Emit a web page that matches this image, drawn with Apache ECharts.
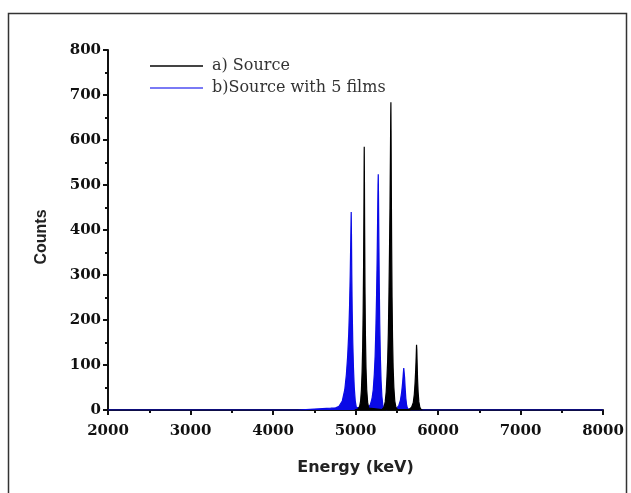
<!DOCTYPE html>
<html>
<head>
<meta charset="utf-8">
<script src="https://cdn.jsdelivr.net/npm/echarts@6/dist/echarts.min.js"></script>
<style>
  html, body { margin: 0; padding: 0; background: #fff; }
  #chart { width: 631px; height: 493px; }
</style>
</head>
<body>
<div id="chart"></div>
<script>
// Alpha spectrum of the bare source (black) and of the source behind 5 films (blue).
// Each series is a list of [energy keV, counts] points.
const seriesNames = ['a) Source', 'b)Source with 5 films'];

const sourceCounts = [
  [4990, 0], [5030, 2], [5050, 8], [5062, 20], [5072, 45], [5080, 85], [5087, 140],
  [5093, 220], [5098, 320], [5102, 440], [5105, 560], [5106, 585], [5108, 520],
  [5111, 400], [5115, 270], [5120, 170], [5127, 95], [5136, 45], [5148, 15],
  [5162, 4], [5180, 0],
  [5320, 1], [5345, 6], [5360, 18], [5372, 40], [5382, 75], [5390, 110], [5398, 170],
  [5405, 250], [5412, 350], [5418, 450], [5423, 560], [5427, 650], [5429, 684],
  [5431, 620], [5434, 500], [5438, 370], [5443, 250], [5449, 160], [5456, 95],
  [5465, 50], [5476, 20], [5490, 6], [5510, 1],
  [5650, 1], [5680, 6], [5700, 16], [5713, 35], [5722, 60], [5730, 90], [5736, 120],
  [5740, 145], [5741, 147], [5743, 135], [5747, 105], [5752, 70], [5759, 40],
  [5768, 18], [5780, 6], [5795, 1], [5810, 0]
];

const filmCounts = [
  [2000, 0], [4300, 0], [4400, 1], [4500, 2], [4600, 3], [4700, 4], [4760, 5],
  [4800, 8], [4840, 20], [4870, 45], [4890, 80], [4905, 120], [4918, 170],
  [4928, 230], [4936, 300], [4942, 370], [4946, 420], [4948, 440], [4951, 390],
  [4955, 300], [4960, 220], [4967, 150], [4975, 95], [4985, 50], [4997, 20],
  [5010, 6], [5025, 2], [5080, 3], [5150, 5], [5180, 12], [5200, 25], [5215, 45],
  [5228, 80], [5238, 120], [5247, 180], [5255, 250], [5262, 330], [5268, 420],
  [5273, 500], [5276, 524], [5279, 470], [5283, 380], [5288, 280], [5294, 190],
  [5301, 120], [5310, 65], [5320, 30], [5332, 10], [5345, 3], [5370, 1],
  [5420, 2], [5500, 4], [5525, 10], [5545, 22], [5560, 40], [5572, 62], [5580, 82],
  [5585, 93], [5587, 96], [5590, 90], [5595, 72], [5602, 48], [5610, 26],
  [5620, 10], [5632, 3], [5650, 1], [5680, 0], [8000, 0]
];

const xTicks = [2000, 3000, 4000, 5000, 6000, 7000, 8000];
const yTicks = [0, 100, 200, 300, 400, 500, 600, 700, 800];

const tickFont = { fontFamily: 'DejaVu Serif', fontWeight: 'bold', fontSize: 15, color: '#111' };
const plainNumber = v => String(v);

const chart = echarts.init(document.getElementById('chart'), null, { renderer: 'canvas' });
chart.setOption({
  animation: false,
  backgroundColor: '#fff',
  graphic: [
    {
      type: 'rect',
      shape: { x: 8.5, y: 13.5, width: 618, height: 520 },
      style: { fill: 'none', stroke: '#333', lineWidth: 1.5 },
      silent: true
    },
    {
      type: 'text',
      x: 42,
      y: 237,
      rotation: Math.PI / 2,
      style: {
        text: 'Counts',
        font: 'bold 16px "Liberation Sans"',
        fill: '#222',
        textAlign: 'center',
        textVerticalAlign: 'middle'
      },
      silent: true
    }
  ],
  grid: { left: 108, right: 28, top: 50, bottom: 83 },
  legend: {
    orient: 'vertical',
    left: 150,
    top: 58,
    padding: 0,
    itemWidth: 53,
    itemHeight: 2,
    itemGap: 6,
    icon: 'rect',
    textStyle: { fontFamily: 'DejaVu Serif', fontSize: 16, color: '#333', padding: [0, 0, 0, 4] },
    data: [
      { name: seriesNames[0], itemStyle: { color: '#444' } },
      { name: seriesNames[1], itemStyle: { color: '#7a7af5' } }
    ]
  },
  xAxis: {
    type: 'value',
    min: xTicks[0],
    max: xTicks[xTicks.length - 1],
    interval: 1000,
    name: 'Energy (keV)',
    nameLocation: 'middle',
    nameGap: 50,
    nameTextStyle: { fontFamily: 'DejaVu Sans', fontWeight: 'bold', fontSize: 16, color: '#222' },
    axisLine: { lineStyle: { color: '#111', width: 2 } },
    axisTick: { inside: false, length: 5, lineStyle: { width: 2, color: '#111' } },
    minorTick: { show: true, splitNumber: 2, length: 3, lineStyle: { width: 2, color: '#111' } },
    axisLabel: Object.assign({ margin: 14, formatter: plainNumber }, tickFont),
    splitLine: { show: false }
  },
  yAxis: {
    type: 'value',
    min: yTicks[0],
    max: yTicks[yTicks.length - 1],
    interval: 100,
    axisLine: { show: true, lineStyle: { color: '#111', width: 2 } },
    axisTick: { show: true, inside: false, length: 5, lineStyle: { width: 2, color: '#111' } },
    minorTick: { show: true, splitNumber: 2, length: 3, lineStyle: { width: 2, color: '#111' } },
    axisLabel: Object.assign({ margin: 7, formatter: plainNumber }, tickFont),
    splitLine: { show: false }
  },
  series: [
    {
      name: seriesNames[1],
      type: 'line',
      data: filmCounts,
      showSymbol: false,
      symbol: 'none',
      z: 3,
      lineStyle: { color: '#0a0ae6', width: 1.2 },
      areaStyle: { color: '#0a0ae6', opacity: 1 },
      itemStyle: { color: '#0a0ae6' }
    },
    {
      name: seriesNames[0],
      type: 'line',
      data: sourceCounts,
      showSymbol: false,
      symbol: 'none',
      z: 4,
      lineStyle: { color: '#000', width: 1.2 },
      areaStyle: { color: '#000', opacity: 1 },
      itemStyle: { color: '#000' }
    }
  ]
});
</script>
</body>
</html>
